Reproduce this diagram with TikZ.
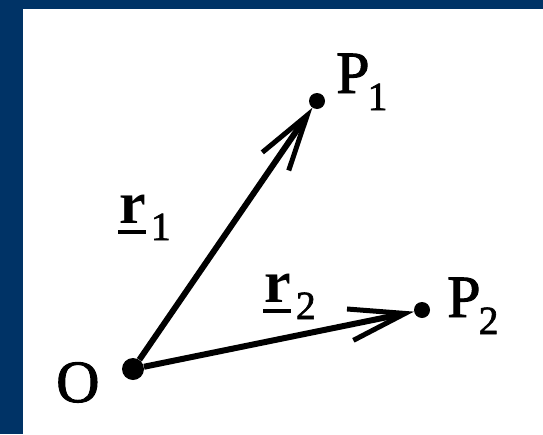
\documentclass[tikz,border=0pt]{standalone}
\usepackage{fontspec}
\setmainfont{Liberation Serif}
\newfontfamily\heavyserif{Liberation Serif}[FakeBold=1.6]
\usepackage{tikz}
\usetikzlibrary{arrows.meta}
\definecolor{slideblue}{HTML}{003366}
\newcommand{\lsub}[2]{\kern#1\raisebox{-17pt}{\fontsize{40}{40}\selectfont #2}}
\newcommand{\ulr}{\rlap{\kern-1pt\rule[-10.5pt]{28pt}{3.5pt}}{\normalfont\bfseries r}}
\tikzstyle{ptdot}  = [circle, fill=black, inner sep=0pt, minimum size=16pt]
\tikzstyle{origin} = [circle, fill=black, inner sep=0pt, minimum size=22pt]
\tikzstyle{vec}    = [-{Straight Barb[length=56pt, width=32pt, line width=5pt]},
                      line width=6pt]
\tikzstyle{lbl}    = [anchor=base west, inner sep=0pt,
                      font=\heavyserif\fontsize{60}{60}\selectfont]
\begin{document}
\begin{tikzpicture}[x=1pt, y=-1pt]
  \useasboundingbox (0,0) rectangle (543,434);
  \fill[slideblue] (0,0) rectangle (543,434);
  \fill[white] (23,9) rectangle (543,434);

  \node[origin] (O) at (133,369) {};
  \node[ptdot] (P1) at (317,101) {};
  \node[ptdot] (P2) at (422,310) {};

  \draw[vec] (O) -- (P1);
  \draw[vec] (O) -- (P2);

  \node[lbl] (lO)  at (56,402)  {O};
  \node[lbl] (lP1) at (336,93)  {P\lsub{-2pt}{1}};
  \node[lbl] (lP2) at (447,317) {P\lsub{-2pt}{2}};
  \node[lbl] (lr1) at (119,223) {\ulr\lsub{5pt}{1}};
  \node[lbl] (lr2) at (264,302) {\ulr\lsub{5pt}{2}};
\end{tikzpicture}
\end{document}
